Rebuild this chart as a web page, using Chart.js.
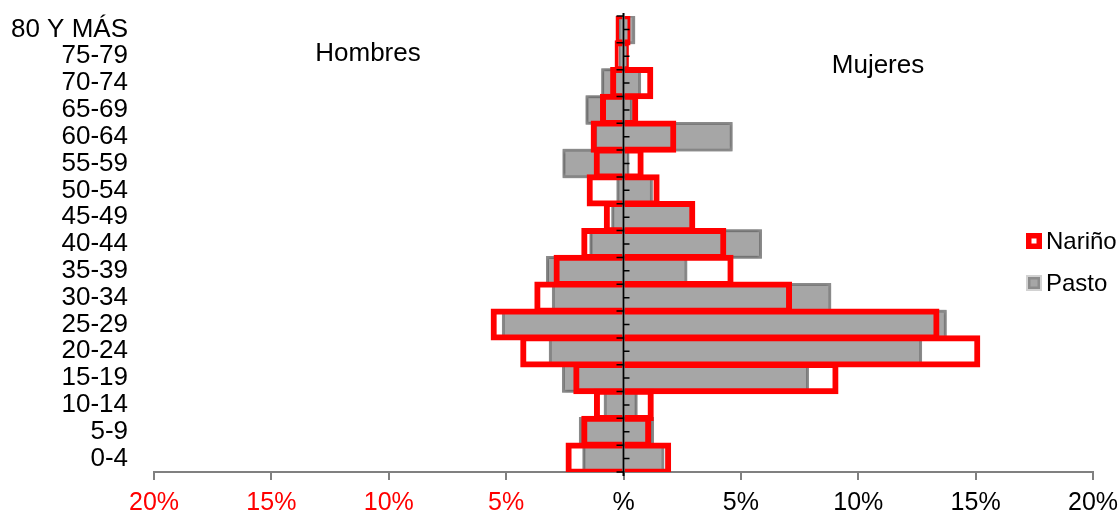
<!DOCTYPE html>
<html>
<head>
<meta charset="utf-8">
<title>Pirámide poblacional Nariño - Pasto</title>
<script src="https://cdn.jsdelivr.net/npm/chart.js@4"></script>
<style>
  html, body { margin: 0; padding: 0; background: #fff; }
  #wrap { width: 1118px; height: 514px; }
</style>
</head>
<body>
<div id="wrap"><canvas id="piramide"></canvas></div>
<script>
// grupos de edad, de arriba hacia abajo
const grupos = ['80 Y MÁS', '75-79', '70-74', '65-69', '60-64', '55-59', '50-54', '45-49',
  '40-44', '35-39', '30-34', '25-29', '20-24', '15-19', '10-14', '5-9', '0-4'];

// porcentajes; hombres en negativo para que queden a la izquierda
const narinoHombres = [-0.34, -0.38, -0.57, -1.0, -1.4, -1.27, -1.57, -0.84,
  -1.8, -2.98, -3.8, -5.66, -4.4, -2.14, -1.26, -1.8, -2.47];
const narinoMujeres = [0.3, 0.23, 1.27, 0.63, 2.25, 0.86, 1.54, 3.06,
  4.38, 4.69, 7.18, 13.46, 15.2, 9.16, 1.29, 1.18, 2.03];
const pastoHombres = [-0.2, -0.2, -0.95, -1.62, -1.25, -2.6, -0.3, -0.52,
  -1.45, -3.3, -3.05, -5.18, -3.18, -2.62, -0.84, -1.9, -1.75];
const pastoMujeres = [0.5, 0.15, 0.75, 0.4, 4.65, 0.25, 1.25, 3.03,
  5.9, 2.72, 8.85, 13.77, 12.72, 7.9, 0.6, 1.3, 1.74];

const ejeX = [-20, -15, -10, -5, 0, 5, 10, 15, 20];

const ROJO = '#ff0000';
const GRIS = '#a6a6a6';
const GRIS_BORDE = '#8c8c8c';
const FUENTE = "'Liberation Sans', Arial, sans-serif";

Chart.defaults.font.family = FUENTE;
Chart.defaults.color = '#000';

function serieNarino(data) {
  return {
    label: 'Nariño', data,
    backgroundColor: 'transparent', borderColor: ROJO, borderWidth: 6,
    grouped: false, barPercentage: 1.2, categoryPercentage: 1
  };
}
function seriePasto(data) {
  return {
    label: 'Pasto', data,
    backgroundColor: GRIS, borderColor: GRIS_BORDE, borderWidth: 3,
    grouped: false, barPercentage: 1.1, categoryPercentage: 1
  };
}

// sombra clara alrededor de las barras grises
const halo = {
  id: 'halo',
  beforeDatasetDraw(chart, args) {
    if (args.meta.label !== 'Pasto') return;
    const ctx = chart.ctx;
    ctx.save();
    ctx.shadowColor = 'rgba(0,0,0,0.5)';
    ctx.shadowBlur = 3;
  },
  afterDatasetDraw(chart, args) {
    if (args.meta.label !== 'Pasto') return;
    chart.ctx.restore();
  }
};

// eje vertical en el cero, por encima de las barras
const ejeCentral = {
  id: 'ejeCentral',
  afterDatasetsDraw(chart) {
    const { ctx, chartArea, scales: { x, y } } = chart;
    const x0 = x.getPixelForValue(0);
    const banda = (chartArea.bottom - chartArea.top) / grupos.length;
    ctx.save();
    ctx.strokeStyle = '#000';
    ctx.lineWidth = 2;
    ctx.beginPath();
    ctx.moveTo(x0, chartArea.top - 3);
    ctx.lineTo(x0, chartArea.bottom + 4);
    ctx.stroke();
    ctx.lineWidth = 1.5;
    grupos.forEach((g, i) => {
      const yc = y.getPixelForValue(i);
      ctx.beginPath();
      ctx.moveTo(x0, yc);
      ctx.lineTo(x0 + 6, yc);
      ctx.moveTo(x0 - 7, yc - banda / 2);
      ctx.lineTo(x0, yc - banda / 2);
      ctx.stroke();
    });
    ctx.beginPath();
    ctx.moveTo(x0 - 7, chartArea.bottom);
    ctx.lineTo(x0, chartArea.bottom);
    ctx.stroke();
    ctx.restore();
  }
};

// títulos de cada lado y leyenda a la derecha
const rotulos = {
  id: 'rotulos',
  afterDraw(chart) {
    const ctx = chart.ctx;
    ctx.save();
    ctx.fillStyle = '#000';
    ctx.textBaseline = 'middle';
    ctx.textAlign = 'center';
    ctx.font = '26px ' + FUENTE;
    ctx.fillText('Hombres', 368, 54);
    ctx.fillText('Mujeres', 878, 66);

    ctx.textAlign = 'left';
    ctx.font = '24px ' + FUENTE;
    // Nariño
    ctx.fillStyle = ROJO;
    ctx.fillRect(1026, 233, 16, 16);
    ctx.fillStyle = '#fff';
    ctx.fillRect(1031.5, 238.5, 5, 5);
    ctx.fillStyle = '#000';
    ctx.fillText('Nariño', 1046, 242);
    // Pasto
    ctx.fillStyle = '#d2d2d2';
    ctx.fillRect(1026, 275, 16, 16);
    ctx.fillStyle = GRIS_BORDE;
    ctx.fillRect(1028, 277, 12, 12);
    ctx.fillStyle = GRIS;
    ctx.fillRect(1030.5, 279.5, 7, 7);
    ctx.fillStyle = '#000';
    ctx.fillText('Pasto', 1046, 284);
    ctx.restore();
  }
};

new Chart(document.getElementById('piramide'), {
  type: 'bar',
  data: {
    labels: grupos,
    datasets: [
      serieNarino(narinoHombres),
      serieNarino(narinoMujeres),
      seriePasto(pastoHombres),
      seriePasto(pastoMujeres)
    ]
  },
  options: {
    indexAxis: 'y',
    responsive: true,
    maintainAspectRatio: false,
    animation: false,
    layout: { padding: { top: 16, right: 25, left: 0, bottom: 0 } },
    plugins: {
      legend: { display: false },
      tooltip: { enabled: false }
    },
    scales: {
      x: {
        min: ejeX[0],
        max: ejeX[ejeX.length - 1],
        afterBuildTicks(scale) {
          scale.ticks = ejeX.map(v => ({ value: v }));
        },
        afterFit(scale) {
          scale.height = 42;
          // las etiquetas de los extremos pueden salirse del área
          scale.paddingLeft = 0;
          scale.paddingRight = 0;
        },
        border: { color: '#808080', width: 2 },
        grid: { drawOnChartArea: false, tickColor: '#808080', tickLength: 8, lineWidth: 2 },
        ticks: {
          padding: 8,
          maxRotation: 0,
          font: { size: 25 },
          color: c => (c.tick && c.tick.value < 0) ? ROJO : '#000',
          callback: v => v === 0 ? '%' : Math.abs(v) + '%'
        }
      },
      y: {
        afterFit(scale) {
          scale.width = 154;
          scale.paddingTop = 0;
          scale.paddingBottom = 0;
        },
        border: { display: false },
        grid: { display: false, drawTicks: false },
        ticks: { padding: 26, font: { size: 26 }, autoSkip: false }
      }
    }
  },
  plugins: [halo, ejeCentral, rotulos]
});
</script>
</body>
</html>
